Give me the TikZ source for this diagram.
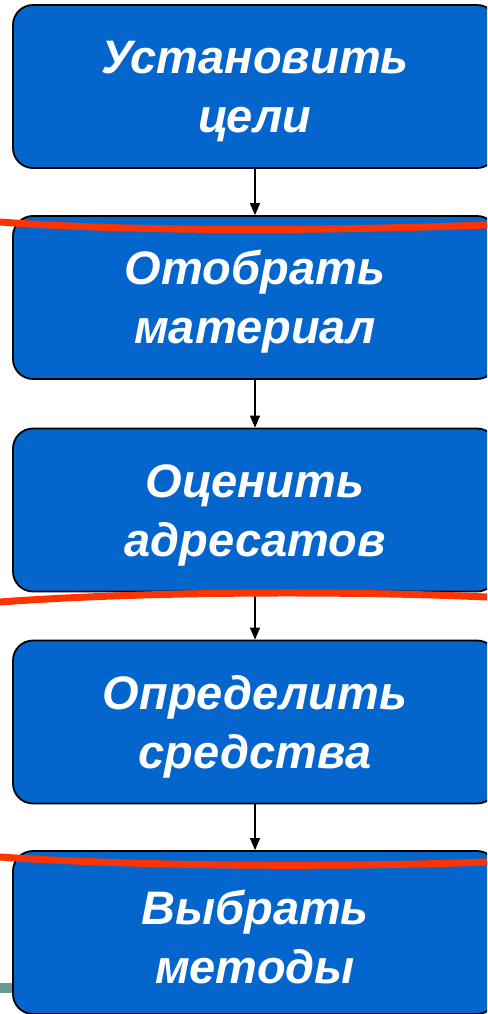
\documentclass[tikz,border=0pt]{standalone}
\usepackage{fontspec}
\setmainfont{Liberation Sans}
\usetikzlibrary{arrows.meta}
\definecolor{boxblue}{HTML}{0466CC}
\definecolor{markred}{HTML}{FF3300}
\definecolor{tealbar}{HTML}{6A9A98}
% tall strut on the first line nudges the label slightly downward
\newcommand{\toplift}{\rule{0pt}{43pt}}
\tikzset{
  stepbox/.style={draw=black, line width=1.8pt, fill=boxblue, rounded corners=20pt,
    minimum width=484pt, minimum height=163pt, align=center, text=white,
    font=\bfseries\itshape\fontsize{47}{59}\selectfont},
  flow/.style={-{Triangle[length=12pt,width=10pt]}, line width=1.3pt, black},
  redstroke/.style={draw=markred, line width=7pt}
}
\begin{document}
\begin{tikzpicture}[x=1pt,y=-1pt]
\useasboundingbox (0,0) rectangle (487,1014);
\clip (0,0) rectangle (487,1014);
\fill[tealbar] (0,983) rectangle (14,993);
\node[stepbox] (s1) at (255,86.5) {\toplift Установить\\цели};
\node[stepbox] (s2) at (255,297.5) {\toplift Отобрать\\материал};
\node[stepbox] (s3) at (255,510) {\toplift Оценить\\адресатов};
\node[stepbox] (s4) at (255,722) {\toplift Определить\\средства};
\node[stepbox] (s5) at (255,932.5) {\toplift Выбрать\\методы};
\draw[flow] (s1) -- (s2);
\draw[flow] (s2) -- (s3);
\draw[flow] (s3) -- (s4);
\draw[flow] (s4) -- (s5);
\path[redstroke] (0,222) .. controls (150,233) and (350,230) .. (487,225);
\path[redstroke] (0,602) .. controls (150,591) and (350,591) .. (487,597);
\path[redstroke] (0,857) .. controls (150,867) and (350,867) .. (487,862);
\end{tikzpicture}
\end{document}
